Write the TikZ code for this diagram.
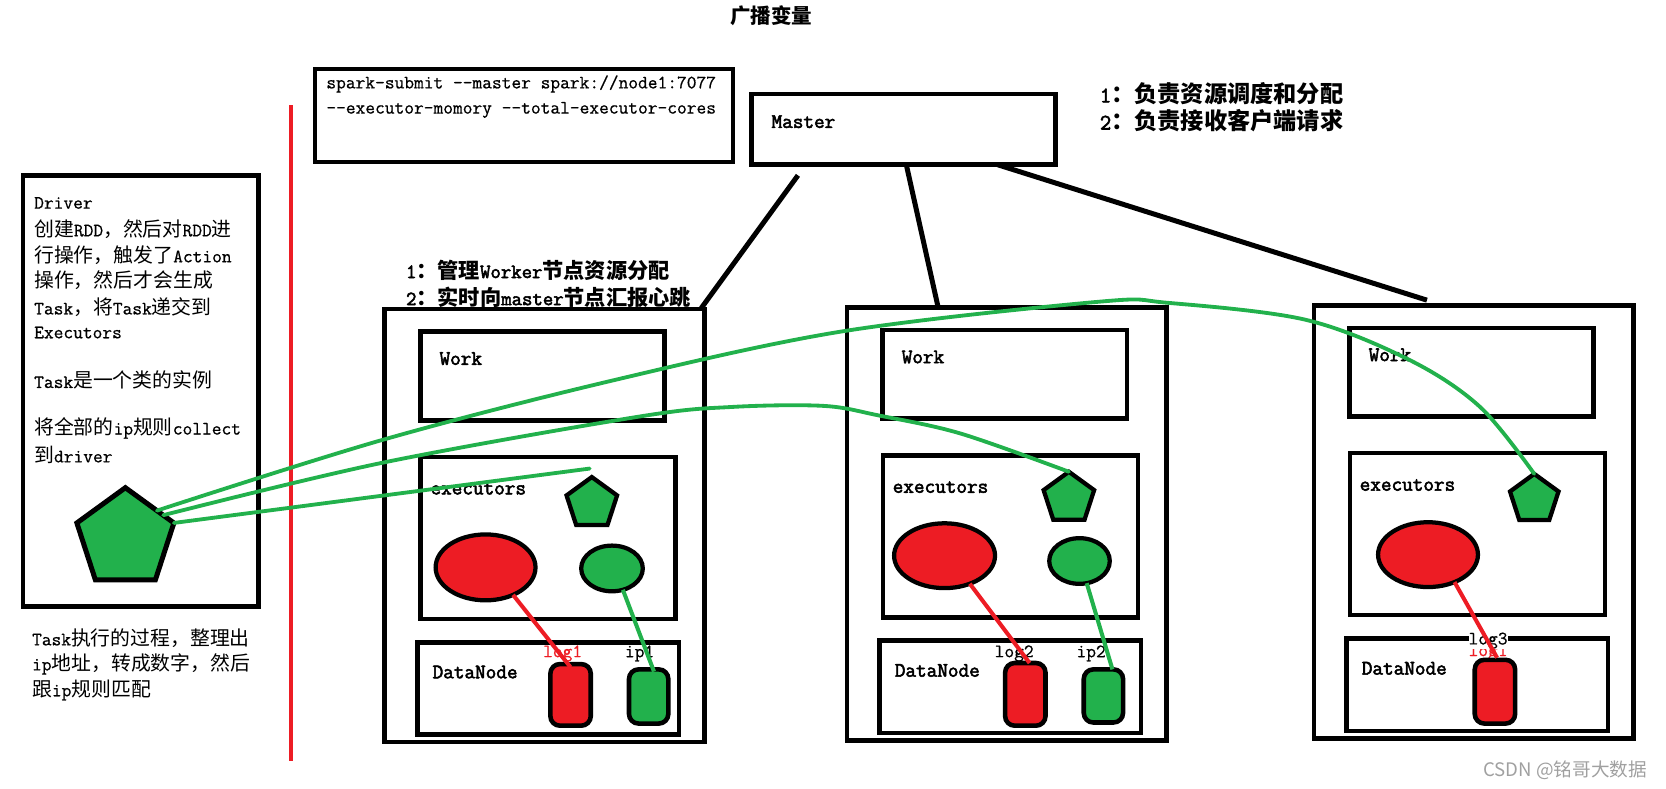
\documentclass[tikz,border=0pt]{standalone}
\usepackage{fontspec}
\newfontfamily\cjk[Scale=1.05]{Noto Sans CJK SC}
\newfontfamily\ttreg[FakeBold=0.7]{Latin Modern Mono}
\newfontfamily\ttheavy[FakeBold=2.6]{Latin Modern Mono}
\usepackage{tikz}
\usetikzlibrary{positioning,shapes.geometric,calc}
\definecolor{paintgreen}{RGB}{34,177,76}
\definecolor{paintred}{RGB}{237,28,36}
\definecolor{markgray}{RGB}{160,160,160}
\newcommand{\zh}[1]{{\cjk #1}}
\newcommand{\zhb}[1]{{\cjk\bfseries #1}}
\newcommand{\dd}{-\kern0pt-}

\begin{document}
\begin{tikzpicture}[x=1pt,y=-1pt,
  box/.style={draw,line width=4.3,outer sep=0,inner sep=0},
  penta/.style={regular polygon,regular polygon sides=5,draw,fill=paintgreen,
                line width=4,inner sep=0,outer sep=0},
  blob/.style={ellipse,draw,line width=4,inner sep=0,outer sep=0},
  disk/.style={rectangle,rounded corners=9,draw,line width=4.3,inner sep=0,
               outer sep=0,minimum width=38},
  txt/.style={anchor=west,inner sep=0,font=\fontsize{17.8}{22}\selectfont\ttreg},
  lbl/.style={anchor=west,inner sep=0,font=\fontsize{19.4}{22}\selectfont\ttheavy},
  note/.style={anchor=west,inner sep=0,font=\fontsize{19}{22}\selectfont\ttheavy},
  link/.style={line width=4.7},
  tie/.style={line width=3.8},
  flow/.style={paintgreen,line width=3.6,line cap=round}]
\useasboundingbox (0,0) rectangle (1568,742);

% title and submit command
\node[font=\fontsize{18.4}{22}\selectfont] (title) at (726,15) {\zhb{广播变量}};
\node[box,minimum width=393.5,minimum height=87.5] (cmd) at (493.25,108.75) {};
\node[txt] (cmd1) at (307,79) {spark-submit \dd master spark://node1:7077};
\node[txt] (cmd2) at (307,103.5) {\dd executor-momory \dd total-executor-cores};

% master
\node[box,minimum width=286,minimum height=66.7] (mst) at (850.5,121.7) {};
\node[lbl] (mstl) at (726,114.5) {Master};
\node[note,font=\fontsize{20.8}{24}\selectfont\ttheavy] (mn1) at (1035,88)
  {1\zhb{：负责资源调度和分配}};
\node[note,font=\fontsize{20.8}{24}\selectfont\ttheavy] (mn2) at (1035,113.5)
  {2\zhb{：负责接收客户端请求}};

% driver
\node[box,minimum width=222,minimum height=406] (drv) at (132.5,368) {};
\foreach \ty/\tx [count=\k] in {191/{Driver},
    215.5/{\zh{创建}RDD\zh{，然后对}RDD\zh{进}},
    240/{\zh{行操作，触发了}Action},
    263.5/{\zh{操作，然后才会生成}},
    289/{Task\zh{，将}Task\zh{递交到}},
    313/{Executors},
    358/{Task\zh{是一个类的实例}},
    403/{\zh{将全部的}ip\zh{规则}collect},
    428/{\zh{到}driver}}
  \node[txt] (drvt\k) at (32,\ty) {\tx};
\node[penta,minimum size=96,line width=4.7] (drvp) at (118,507) {};
\foreach \ty/\tx [count=\k] in {600.5/{Task\zh{执行的过程，整理出}},
    625/{ip\zh{地址，转成数字，然后}},
    649.5/{\zh{跟}ip\zh{规则匹配}}}
  \node[txt] (cap\k) at (30,\ty) {\tx};

% divider
\draw[paintred,line width=4.2] (274,99) -- (274,716);

% worker frames
\foreach \i/\wx/\wy in {1/362/291,2/797/289.5,3/1236.5/287.5}{
  \node[box,anchor=north west,minimum width=301,minimum height=407.5] (w\i) at (\wx,\wy) {};
  \node[box,anchor=north west,minimum width=230,minimum height=83.5] (wk\i)
    at ([shift={(33.5,21)}]w\i.north west) {};
  \node[box,anchor=north west,minimum width=240,minimum height=152.5] (ex\i)
    at ([shift={(34,139)}]w\i.north west) {};
  \node[box,anchor=north west,minimum width=246,minimum height=87] (dn\i)
    at ([shift={(31,313.5)}]w\i.north west) {};
  \node[lbl] (wkl\i) at ([shift={(18,25.5)}]wk\i.north west) {Work};
  \node[lbl] (exl\i) at ([shift={(9,30)}]ex\i.north west) {executors};
  \node[lbl] (dnl\i) at ([shift={(14,28)}]dn\i.north west) {DataNode};
}
\node[note] (wn1) at (382,254) {1\zhb{：管理}Worker\zhb{节点资源分配}};
\node[note] (wn2) at (382,279.5) {2\zhb{：实时向}master\zhb{节点汇报心跳}};

% master to workers
\draw[link] ([shift={(43.5,10)}]mst.south west) -- ([shift={(-3,-1)}]w1.north east);
\draw[link] ([shift={(145.5,0)}]mst.south west) -- ([shift={(86,0)}]w2.north west);
\draw[link] ([shift={(231.5,0)}]mst.south west) -- ([shift={(106.5,-5)}]w3.north west);

% worker 1
\node[blob,fill=paintred,minimum width=94,minimum height=62] (re1) at (457,534) {};
\node[blob,fill=paintgreen,minimum width=58,minimum height=43] (ge1) at (576,535) {};
\node[penta,minimum size=50] (pt1) at (557,474) {};
\node[txt,text=paintred] (lg1) at (511,615) {log1};
\node[txt] (ip1) at (588,615) {ip1};
\node[disk,fill=paintred,minimum height=58] (rd1) at (537,654) {};
\node[disk,fill=paintgreen,minimum width=37,minimum height=51] (gd1) at (610.5,655.5) {};
\draw[tie,paintred] (re1.-45) -- ([shift={(0,3)}]rd1.north);
\draw[tie,paintgreen] (ge1.-63) -- ([shift={(5,2)}]gd1.north);

% worker 2
\node[blob,fill=paintred,minimum width=95,minimum height=61] (re2) at (889,523) {};
\node[blob,fill=paintgreen,minimum width=57,minimum height=43] (ge2) at (1016,528) {};
\node[penta,minimum size=50] (pt2) at (1006,469) {};
\node[txt] (lg2) at (936,615) {log2};
\node[txt] (ip2) at (1013,615) {ip2};
\node[disk,fill=paintred,minimum height=59] (rd2) at (965,653.5) {};
\node[disk,fill=paintgreen,minimum width=37,minimum height=50] (gd2) at (1038.5,655) {};
\draw[tie,paintred] (re2.-48) -- ([shift={(4,0)}]rd2.north);
\draw[tie,paintgreen] (ge2.-72) -- ([shift={(8.5,0)}]gd2.north);

% worker 3
\node[blob,fill=paintred,minimum width=94,minimum height=61] (re3) at (1344,522) {};
\node[penta,minimum size=48] (pt3) at (1444,470) {};
\node[txt,text=paintred] (lg3a) at (1382,614) {log1};
\node[txt,fill=white] (lg3) at (1382,603) {log3};
\node[disk,fill=paintred,minimum height=60] (rd3) at (1407,651) {};
\draw[tie,paintred] (re3.-46) -- ([shift={(2,-2)}]rd3.north);

% broadcast lines from the driver task
\coordinate (ga) at ($(drvp.corner 1)!0.65!(drvp.corner 5)$);
\coordinate (gb) at ($(drvp.corner 1)!0.78!(drvp.corner 5)$);
\draw[flow] plot[smooth,tension=0.55] coordinates {(ga) (360,414) (577,358) (792,312)
  (1034,284) (1099,285) (1229,301) (1327,339) (1393,383) (pt3.corner 1)};
\draw[flow] plot[smooth,tension=0.55] coordinates {(gb) (360,435.5) (602,392) (689,383)
  (775,382) (827,391) (904,408) (pt2.corner 1)};
\draw[flow] (drvp.corner 5) -- ([shift={(-2,-8)}]pt1.corner 1);

\node[font=\cjk\fontsize{16.7}{20}\selectfont,text=markgray] (mark) at (1473,724.7)
  {CSDN @铭哥大数据};
\end{tikzpicture}
\end{document}
